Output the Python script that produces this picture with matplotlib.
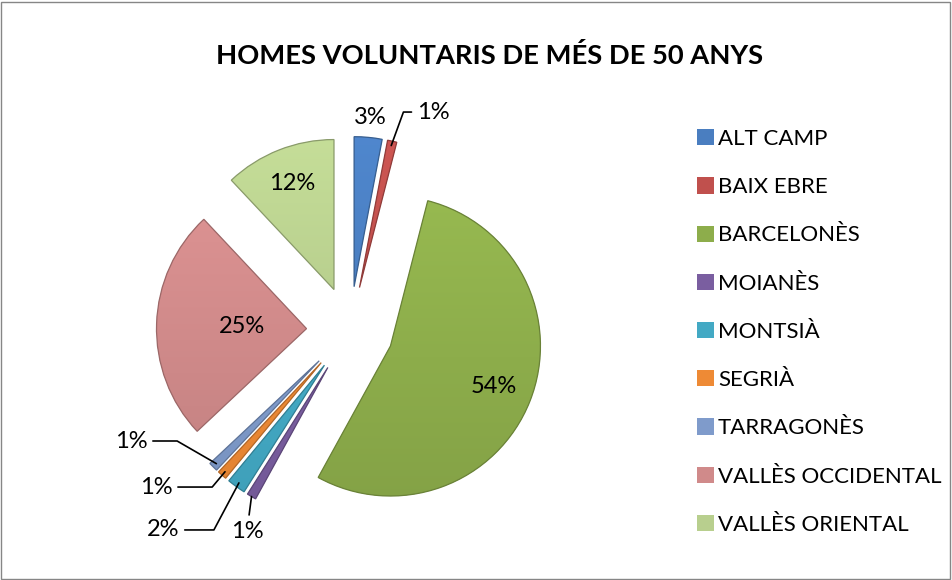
import numpy as np
import matplotlib
matplotlib.use('Agg')
import matplotlib.pyplot as plt
from matplotlib.patches import Rectangle, Wedge
from matplotlib.colors import to_rgb

plt.rcParams['font.family'] = ['Lato', 'DejaVu Sans']

comarques = ['ALT CAMP', 'BAIX EBRE', 'BARCELONÈS', 'MOIANÈS', 'MONTSIÀ',
             'SEGRIÀ', 'TARRAGONÈS', 'VALLÈS OCCIDENTAL', 'VALLÈS ORIENTAL']
percent = [3, 1, 54, 1, 2, 1, 1, 25, 12]
labels = ['3%', '1%', '54%', '1%', '2%', '1%', '1%', '25%', '12%']
colors = ['#4A7EC0', '#C0504D', '#8DAD4B', '#7A5EA0', '#43A9C4',
          '#EE8A35', '#7F9BCB', '#D08A8A', '#B8CF8E']

fig = plt.figure(figsize=(9.52, 5.8), dpi=100)
ax = fig.add_axes([110 / 952, 10 / 580, 480 / 952, 480 / 580])
wedges, _ = ax.pie(percent, colors=colors, startangle=90, counterclock=False,
                   explode=[0.29] * len(percent), radius=1,
                   wedgeprops=dict(linewidth=0))

# soft vertical shading + darker rim, a rough take on the bevel look
grad = np.linspace(1.07, 0.94, 64)[:, None]
for w, c in zip(wedges, colors):
    rgb = np.array(to_rgb(c))
    img = np.clip(grad[:, :, None] * rgb[None, None, :], 0, 1)
    x0, y0 = w.center
    ext = [x0 - w.r, x0 + w.r, y0 - w.r, y0 + w.r]
    im = ax.imshow(img, extent=ext, origin='upper', zorder=1.5,
                   interpolation='bilinear', aspect='auto')
    im.set_clip_path(w)
    ax.add_patch(Wedge(w.center, w.r, w.theta1, w.theta2, fill=False,
                       edgecolor=tuple(rgb * 0.75), lw=0.9, zorder=1.6))
ax.set_xlim(-1.6, 1.6)
ax.set_ylim(-1.6, 1.6)
ax.set_aspect('equal')

fs = 17


def mid_unit(w):
    a = np.deg2rad((w.theta1 + w.theta2) / 2)
    return np.array([np.cos(a), np.sin(a)])


def tip(w):
    return np.array(w.center) + w.r * mid_unit(w)


# labels inside the big slices
inside = {2: 0.74, 7: 0.43, 8: 0.76}
for i, d in inside.items():
    p = np.array(wedges[i].center) + d * mid_unit(wedges[i])
    ax.text(p[0], p[1], labels[i], ha='center', va='center', fontsize=fs,
            zorder=3)

# ALT CAMP, just outside
p = np.array(wedges[0].center) + 1.135 * mid_unit(wedges[0])
ax.text(p[0], p[1], labels[0], ha='center', va='center', fontsize=fs)

# leader lines for the thin slices: (index, text pos, ha, connection)
leaders = [
    (1, (0.447, 1.453), 'left', 'angle,angleA=0,angleB=70,rad=0'),
    (6, (-1.46, -0.74), 'center', 'angle,angleA=0,angleB=150,rad=0'),
    (5, (-1.293, -1.047), 'center', 'angle,angleA=0,angleB=50,rad=0'),
    (4, (-1.247, -1.333), 'center', 'angle,angleA=0,angleB=62,rad=0'),
]
for i, xyt, ha, cs in leaders:
    ax.annotate(labels[i], xy=tip(wedges[i]) - 0.03 * mid_unit(wedges[i]),
                xytext=xyt, ha=ha, va='center', fontsize=fs,
                arrowprops=dict(arrowstyle='-', color='black', lw=1.2,
                                connectionstyle=cs, shrinkA=2, shrinkB=0))

t3 = tip(wedges[3])
ax.annotate(labels[3], xy=t3, xytext=(t3[0] - 0.03, -1.34), ha='center',
            va='center', fontsize=fs,
            arrowprops=dict(arrowstyle='-', color='black', lw=1.2,
                            shrinkA=2, shrinkB=0))

fig.text(490 / 952, 1 - 55 / 580, 'HOMES VOLUNTARIS DE MÉS DE 50 ANYS',
         ha='center', va='center', fontsize=19.7, fontweight='bold')

fig.legend(wedges, comarques, loc='upper left',
           bbox_to_anchor=(697 / 952, 1 - 129 / 580), frameon=False,
           fontsize=16, handlelength=0.75, handleheight=0.75,
           handletextpad=0.2, labelspacing=1.27, borderaxespad=0,
           borderpad=0)

fig.patches.append(Rectangle((0.001, 0.002), 0.997, 0.995,
                             transform=fig.transFigure, fill=False,
                             edgecolor='#868686', lw=1))

fig.savefig('out.png', dpi=100)
